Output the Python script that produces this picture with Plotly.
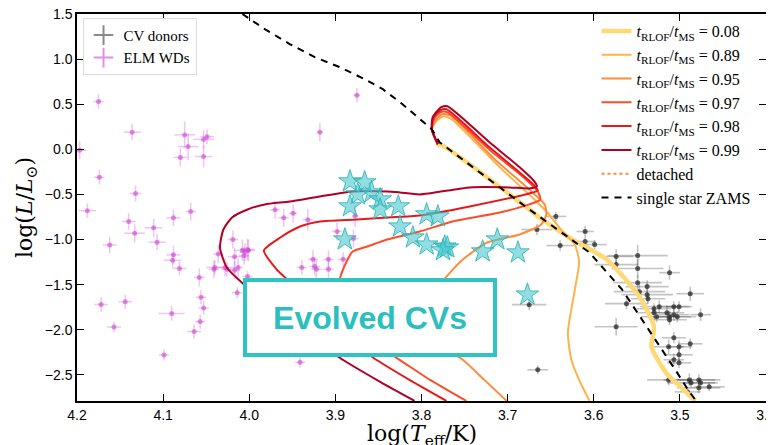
import plotly.graph_objects as go

# ---------------- data ----------------
# single star ZAMS
zams_T = [4.008, 3.982, 3.953, 3.924, 3.895, 3.866, 3.845, 3.822, 3.788, 3.779, 3.678, 3.655,
          3.605, 3.567, 3.536, 3.503, 3.489, 3.481]
zams_L = [1.50, 1.333, 1.167, 1.022, 0.911, 0.778, 0.667, 0.50, 0.222, 0.078, -0.644, -0.80,
          -1.144, -1.556, -2.00, -2.478, -2.689, -2.789]

# evolutionary tracks, t_RLOF / t_MS
trk_008_T = [3.782, 3.779, 3.678, 3.663, 3.625, 3.585, 3.547, 3.530, 3.533, 3.516, 3.493, 3.482]
trk_008_L = [0.033, 0.056, -0.644, -0.756, -1.0, -1.222, -1.633, -1.967, -2.189, -2.478, -2.689, -2.789]

trk_089_T = [3.781, 3.788, 3.782, 3.774, 3.765, 3.709, 3.669, 3.654, 3.640, 3.622, 3.617, 3.622,
             3.630, 3.626, 3.617, 3.605]
trk_089_L = [0.056, 0.222, 0.322, 0.367, 0.333, -0.20, -0.556, -0.70, -0.867, -1.056, -1.244, -1.556,
             -2.033, -2.333, -2.556, -2.789]

trk_095_T = [3.781, 3.788, 3.783, 3.776, 3.767, 3.715, 3.675, 3.657, 3.655, 3.661, 3.686, 3.724,
             3.752, 3.771, 3.788, 3.793, 3.779, 3.752, 3.727, 3.701]
trk_095_L = [0.056, 0.222, 0.333, 0.389, 0.378, -0.111, -0.444, -0.611, -0.722, -0.833, -0.944, -1.033,
             -1.222, -1.411, -1.611, -1.889, -2.167, -2.333, -2.556, -2.789]

trk_097_T = [3.781, 3.788, 3.785, 3.778, 3.770, 3.719, 3.684, 3.665, 3.662, 3.675, 3.709, 3.764,
             3.802, 3.840, 3.863, 3.880, 3.887, 3.895, 3.898, 3.883, 3.872, 3.829, 3.790, 3.748]
trk_097_L = [0.056, 0.222, 0.344, 0.411, 0.411, -0.022, -0.289, -0.467, -0.556, -0.611, -0.70, -0.80,
             -0.911, -1.0, -1.078, -1.133, -1.244, -1.444, -1.667, -1.90, -2.056, -2.311, -2.556, -2.789]

trk_098_T = [3.781, 3.788, 3.786, 3.778, 3.771, 3.721, 3.686, 3.669, 3.665, 3.675, 3.744, 3.802,
             3.840, 3.875, 3.918, 3.941, 3.964, 3.983, 3.968, 3.956, 3.918, 3.856, 3.814, 3.771]
trk_098_L = [0.056, 0.222, 0.356, 0.433, 0.444, 0.022, -0.256, -0.40, -0.456, -0.489, -0.633, -0.733,
             -0.756, -0.778, -0.80, -0.856, -0.978, -1.122, -1.333, -1.444, -1.867, -2.311, -2.556, -2.789]

trk_099_T = [3.781, 3.788, 3.787, 3.777, 3.770, 3.721, 3.686, 3.669, 3.666, 3.675, 3.698, 3.744,
             3.802, 3.825, 3.840, 3.880, 3.918, 3.953, 3.982, 4.002, 4.020, 4.030, 4.034, 4.026,
             4.007, 3.982, 3.941, 3.895, 3.848, 3.808]
trk_099_L = [0.056, 0.222, 0.356, 0.467, 0.478, 0.078, -0.20, -0.356, -0.411, -0.433, -0.422, -0.422,
             -0.50, -0.478, -0.467, -0.467, -0.522, -0.578, -0.611, -0.667, -0.756, -0.889, -1.089, -1.311,
             -1.489, -1.667, -1.978, -2.311, -2.578, -2.789]

track_names = ["0.08", "0.89", "0.95", "0.97", "0.98", "0.99"]

# CV donors
cv_T = [3.644, 3.666, 3.610, 3.610, 3.599, 3.639, 3.574, 3.574, 3.549, 3.549, 3.549, 3.512,
        3.547, 3.538, 3.538, 3.537, 3.562, 3.488, 3.530, 3.524, 3.507, 3.501, 3.515, 3.512,
        3.512, 3.507, 3.503, 3.476, 3.530, 3.527, 3.574, 3.507, 3.513, 3.501, 3.488, 3.501,
        3.507, 3.501, 3.513, 3.489, 3.487, 3.478, 3.476, 3.478, 3.466, 3.491, 3.675, 3.665]
cv_L = [-0.744, -0.889, -0.911, -1.022, -1.056, -1.067, -1.189, -1.278, -1.178, -1.322, -1.478, -1.367,
        -1.578, -1.522, -1.611, -1.656, -1.711, -1.600, -1.767, -1.744, -1.744, -1.744, -1.811, -1.856,
        -1.889, -1.833, -1.856, -1.833, -1.811, -1.856, -1.967, -2.089, -2.189, -2.189, -2.156, -2.278,
        -2.333, -2.367, -2.556, -2.556, -2.589, -2.556, -2.589, -2.644, -2.633, -2.689, -1.722, -2.444]
cv_errT = [0.012, 0.018, 0.010, 0.012, 0.014, 0.016, 0.020, 0.025, 0.035, 0.030, 0.028, 0.012,
           0.030, 0.025, 0.030, 0.020, 0.025, 0.016, 0.020, 0.022, 0.018, 0.015, 0.020, 0.025,
           0.020, 0.018, 0.022, 0.012, 0.020, 0.018, 0.025, 0.014, 0.018, 0.015, 0.014, 0.016,
           0.012, 0.014, 0.025, 0.030, 0.028, 0.025, 0.020, 0.025, 0.018, 0.015, 0.020, 0.012]
cv_errL = [0.05, 0.06, 0.06, 0.05, 0.05, 0.06, 0.08, 0.07, 0.12, 0.10, 0.08, 0.08,
           0.08, 0.07, 0.08, 0.06, 0.06, 0.08, 0.06, 0.07, 0.06, 0.06, 0.08, 0.07,
           0.06, 0.07, 0.06, 0.07, 0.08, 0.06, 0.10, 0.06, 0.08, 0.07, 0.06, 0.08,
           0.07, 0.06, 0.06, 0.07, 0.06, 0.06, 0.05, 0.06, 0.05, 0.05, 0.06, 0.05]

# ELM white dwarfs
elm_T = [4.175, 4.197, 4.188, 4.174, 4.136, 4.132, 4.140, 4.133, 4.162, 4.111, 4.107, 4.075,
         4.071, 4.080, 4.053, 4.049, 4.053, 4.068, 4.088, 4.088, 4.089, 4.081, 4.058, 4.172,
         4.144, 4.157, 4.090, 4.056, 4.053, 4.057, 4.064, 4.099, 4.041, 4.036, 4.028, 4.019,
         4.017, 4.013, 4.017, 4.008, 4.005, 4.002, 4.001, 4.006, 4.002, 4.014, 3.970, 3.960,
         3.949, 3.932, 3.898, 3.879, 3.939, 3.926, 3.924, 3.922, 3.908, 3.908, 3.891, 3.941,
         3.875, 3.918, 3.877, 4.026, 4.040]
elm_L = [0.53, -0.01, -0.68, -0.31, 0.19, -0.49, -0.80, -0.93, -1.06, -0.87, -1.03, 0.16,
         0.03, -0.09, 0.11, 0.14, -0.08, -0.69, -0.76, -1.17, -1.23, -1.32, -1.42, -1.72,
         -1.69, -1.97, -1.82, -1.64, -1.76, -1.91, -2.02, -2.28, -1.33, -1.16, -1.31, -1.00,
         -1.19, -1.31, -1.34, -1.12, -1.14, -1.11, -1.12, -1.18, -1.41, -1.59, -0.67, -0.76,
         -0.71, -0.78, -0.91, -0.99, -1.31, -1.22, -1.30, -1.33, -1.22, -1.33, -1.22, -2.36,
         0.60, 0.19, -0.74, -1.33, -1.31]
elm_errT = [0.006, 0.008, 0.010, 0.006, 0.010, 0.007, 0.008, 0.012, 0.008, 0.010, 0.010, 0.012,
            0.012, 0.008, 0.012, 0.008, 0.010, 0.006, 0.008, 0.008, 0.010, 0.008, 0.006, 0.008,
            0.008, 0.008, 0.015, 0.006, 0.006, 0.006, 0.008, 0.006, 0.006, 0.006, 0.010, 0.006,
            0.008, 0.006, 0.006, 0.010, 0.006, 0.008, 0.008, 0.006, 0.006, 0.006, 0.006, 0.006,
            0.005, 0.006, 0.006, 0.006, 0.006, 0.006, 0.006, 0.006, 0.006, 0.006, 0.006, 0.006,
            0.004, 0.004, 0.004, 0.006, 0.010]
elm_errL = [0.08, 0.10, 0.08, 0.08, 0.09, 0.09, 0.09, 0.10, 0.09, 0.10, 0.09, 0.15,
            0.15, 0.10, 0.10, 0.08, 0.12, 0.10, 0.09, 0.10, 0.08, 0.08, 0.10, 0.08,
            0.08, 0.06, 0.08, 0.08, 0.08, 0.08, 0.08, 0.06, 0.10, 0.10, 0.10, 0.10,
            0.10, 0.10, 0.10, 0.12, 0.10, 0.12, 0.12, 0.10, 0.06, 0.06, 0.10, 0.10,
            0.10, 0.12, 0.10, 0.10, 0.08, 0.10, 0.10, 0.10, 0.10, 0.10, 0.08, 0.06,
            0.08, 0.10, 0.12, 0.08, 0.08]

# evolved CVs (stars)
ecv_T = [3.883, 3.866, 3.874, 3.858, 3.883, 3.848, 3.848, 3.827, 3.825, 3.794, 3.781, 3.810,
         3.889, 3.794, 3.773, 3.770, 3.775, 3.729, 3.712, 3.688, 3.677]
ecv_L = [-0.356, -0.367, -0.50, -0.478, -0.633, -0.556, -0.667, -0.633, -0.856, -0.722, -0.744, -0.978,
         -1.00, -1.056, -1.078, -1.089, -1.12, -1.133, -1.00, -1.144, -1.611]

x_title = "log(<i>T</i><sub>eff</sub>/K)"
y_title = "log(<i>L</i>/<i>L</i><sub>⊙</sub>)"

# ---------------- styles ----------------
track_colors = ["#fed976", "#feb24c", "#fd8d3c", "#fc4e2a", "#e31a1c", "#b10026"]
track_widths = [4.5, 2, 2, 2, 2, 2]
serif = "Liberation Serif, DejaVu Serif, serif"
title_serif = "DejaVu Serif, serif"
sans = "Liberation Sans, Arial, sans-serif"

fig = go.Figure()

# ELM WDs
fig.add_trace(go.Scatter(
    x=elm_T, y=elm_L, mode="markers", showlegend=False,
    marker=dict(color="rgba(205,70,210,0.6)", size=5),
    error_x=dict(type="data", array=elm_errT, color="rgba(205,70,210,0.3)", thickness=1.6, width=0),
    error_y=dict(type="data", array=elm_errL, color="rgba(205,70,210,0.3)", thickness=1.6, width=0),
))
# CV donors
fig.add_trace(go.Scatter(
    x=cv_T, y=cv_L, mode="markers", showlegend=False,
    marker=dict(color="rgba(40,40,40,0.75)", size=5),
    error_x=dict(type="data", array=cv_errT, color="rgba(60,60,60,0.3)", thickness=1.6, width=0),
    error_y=dict(type="data", array=cv_errL, color="rgba(60,60,60,0.3)", thickness=1.6, width=0),
))

# tracks
tracks = [(trk_008_T, trk_008_L), (trk_089_T, trk_089_L), (trk_095_T, trk_095_L),
          (trk_097_T, trk_097_L), (trk_098_T, trk_098_L), (trk_099_T, trk_099_L)]
for (tx, ty), nm, col, w in zip(tracks, track_names, track_colors, track_widths):
    fig.add_trace(go.Scatter(
        x=tx, y=ty, mode="lines", line=dict(color=col, width=w, shape="spline", smoothing=0.6),
        name="<i>t</i><sub>RLOF</sub>/<i>t</i><sub>MS</sub> = " + nm, legend="legend2",
    ))
fig.add_trace(go.Scatter(
    x=[None], y=[None], mode="lines", line=dict(color="#fd8d3c", width=2, dash="dot"),
    name="detached", legend="legend2",
))
fig.add_trace(go.Scatter(
    x=zams_T, y=zams_L, mode="lines", line=dict(color="black", width=2, dash="7px,6px"),
    name="single star ZAMS", legend="legend2",
))

# evolved CV stars
fig.add_trace(go.Scatter(
    x=ecv_T, y=ecv_L, mode="markers", showlegend=False,
    marker=dict(symbol="star", size=17, color="rgba(70,200,205,0.6)",
                line=dict(color="rgba(40,175,180,0.8)", width=1)),
))

# legend-only entries for the observational samples
fig.add_trace(go.Scatter(
    x=[None], y=[None], mode="markers", name="CV donors", legend="legend",
    marker=dict(symbol="cross-thin", size=14, line=dict(color="rgba(60,60,60,0.6)", width=2)),
))
fig.add_trace(go.Scatter(
    x=[None], y=[None], mode="markers", name="ELM WDs", legend="legend",
    marker=dict(symbol="cross-thin", size=14, line=dict(color="rgba(205,70,210,0.6)", width=2)),
))

fig.add_annotation(
    xref="paper", yref="paper", x=0.4257, y=0.217, xanchor="center", yanchor="middle",
    text="<b>Evolved CVs</b>", showarrow=False,
    font=dict(family=sans, size=32, color="#2bbfc0"),
    bgcolor="white", bordercolor="#2ec4c4", borderwidth=4, borderpad=0,
    width=246, height=71,
)
# x axis title placed as an annotation below the tick labels
fig.add_annotation(
    xref="paper", yref="paper", x=0.5, y=0, xanchor="center", yanchor="top",
    yshift=-18, text=x_title, showarrow=False,
    font=dict(family=title_serif, size=22, color="black"),
)

axis_common = dict(showline=True, linecolor="black", linewidth=1.5, mirror="allticks",
                   ticks="inside", ticklen=7, tickwidth=1.2, tickcolor="black",
                   showgrid=False, zeroline=False, automargin=False,
                   ticklabeloverflow="allow",
                   tickfont=dict(family=sans, size=14, color="black"))

# the page body adds an 8 px offset, compensated in the margins
fig.update_layout(
    width=774, height=445,
    margin=dict(l=69, r=16, t=6, b=52),
    paper_bgcolor="white", plot_bgcolor="white",
    xaxis=dict(range=[4.2, 3.4], tickvals=[4.2, 4.1, 4.0, 3.9, 3.8, 3.7, 3.6, 3.5, 3.4],
               tickformat=".1f", **axis_common),
    yaxis=dict(range=[-2.79, 1.5], tickvals=[-2.5, -2.0, -1.5, -1.0, -0.5, 0.0, 0.5, 1.0, 1.5],
               tickformat=".1f",
               title=dict(text=y_title, font=dict(family=title_serif, size=22, color="black"),
                          standoff=6),
               **axis_common),
    legend=dict(x=0.008, y=0.99, xanchor="left", yanchor="top",
                bgcolor="rgba(255,255,255,0.9)", bordercolor="#dddddd", borderwidth=1,
                font=dict(family=serif, size=15, color="black"), itemwidth=30,
                tracegroupgap=0),
    legend2=dict(x=0.754, y=1.0, xanchor="left", yanchor="top",
                 bgcolor="rgba(255,255,255,0)", borderwidth=0,
                 font=dict(family=serif, size=16, color="black"), itemwidth=30,
                 tracegroupgap=0),
)

fig.write_html("out.html")
